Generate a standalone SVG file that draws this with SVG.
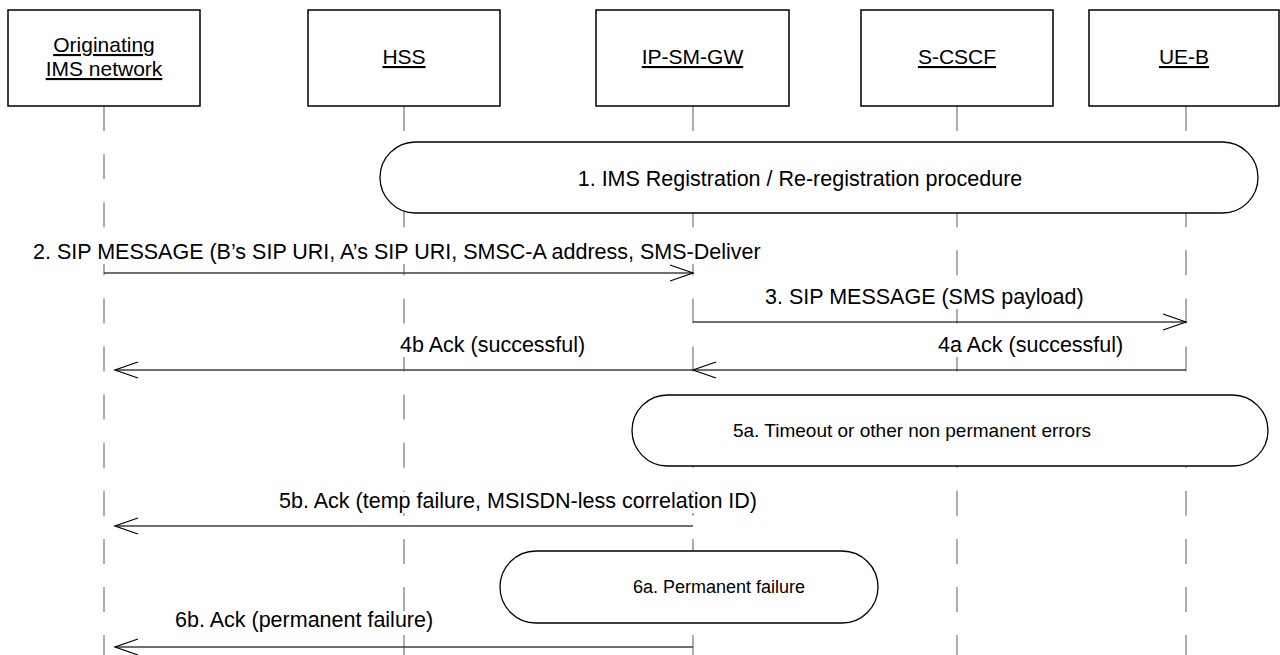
<svg xmlns="http://www.w3.org/2000/svg" width="1280" height="655" viewBox="0 0 1280 655">
<style>
text{font-family:"Liberation Sans",Arial,sans-serif;font-size:21.5px;fill:#000}
.hdr{fill:#fff;stroke:#000;stroke-width:1.5}
.ht{text-anchor:middle;text-decoration:underline;font-size:21px}
.life{stroke:#808080;stroke-width:1.3;stroke-dasharray:25 23.1}
.msg{stroke:#404040;stroke-width:1.3;fill:none}
.bg{fill:#fff}
.proc{fill:#fff;stroke:#000;stroke-width:1.3}
.pt{text-anchor:middle}
</style>
<defs>
<marker id="ah" markerWidth="26" markerHeight="18" refX="24" refY="9" orient="auto" markerUnits="userSpaceOnUse">
<path d="M1,1 L24,9 L1,17" fill="none" stroke="#000" stroke-width="1.2"/>
</marker>
</defs>
<rect width="1280" height="655" fill="#fff"/>
<g id="lifelines">
<line class="life" x1="104" y1="106" x2="104" y2="655"/>
<line class="life" x1="404" y1="106" x2="404" y2="655"/>
<line class="life" x1="693" y1="106" x2="693" y2="655"/>
<line class="life" x1="957" y1="106" x2="957" y2="655"/>
<line class="life" x1="1186" y1="106" x2="1186" y2="655"/>
</g>
<g id="node-orig"><rect class="hdr" x="8" y="10" width="192" height="96"/><text class="ht" x="104" y="52">Originating</text><text class="ht" x="104" y="76">IMS network</text></g>
<g id="node-hss"><rect class="hdr" x="308" y="10" width="192" height="96"/><text class="ht" x="404" y="64">HSS</text></g>
<g id="node-ipsmgw"><rect class="hdr" x="596" y="10" width="193" height="96"/><text class="ht" x="692.5" y="64">IP-SM-GW</text></g>
<g id="node-scscf"><rect class="hdr" x="861" y="10" width="192" height="96"/><text class="ht" x="957" y="64">S-CSCF</text></g>
<g id="node-ueb"><rect class="hdr" x="1089" y="10" width="190" height="96"/><text class="ht" x="1184" y="64">UE-B</text></g>
<g id="proc-1"><rect class="proc" x="380" y="142" width="878" height="71" rx="35.5" ry="35.5"/><text class="pt" x="800" y="186">1. IMS Registration / Re-registration procedure</text></g>
<g id="proc-5a"><rect class="proc" x="632" y="395" width="636" height="71" rx="35.5" ry="35.5"/><text class="pt" x="912" y="437" style="font-size:19px">5a. Timeout or other non permanent errors</text></g>
<g id="proc-6a"><rect class="proc" x="500" y="551" width="378" height="72" rx="36" ry="36"/><text class="pt" x="719" y="593" style="font-size:18px">6a. Permanent failure</text></g>
<g id="connectors">
<line class="msg" x1="104" y1="273" x2="693" y2="273" marker-end="url(#ah)"/>
<line class="msg" x1="693" y1="322" x2="1186" y2="322" marker-end="url(#ah)"/>
<line class="msg" x1="1186" y1="370" x2="693" y2="370" marker-end="url(#ah)"/>
<line class="msg" x1="693" y1="370" x2="115" y2="370" marker-end="url(#ah)"/>
<line class="msg" x1="693" y1="526" x2="115" y2="526" marker-end="url(#ah)"/>
<line class="msg" x1="693" y1="647" x2="115" y2="647" marker-end="url(#ah)"/>
</g>
<g id="labels">
<rect class="bg" x="31" y="243" width="733" height="21"/>
<text x="33" y="259">2. SIP MESSAGE (B’s SIP URI, A’s SIP URI, SMSC-A address, SMS-Deliver</text>
<rect class="bg" x="763" y="288" width="332" height="21"/>
<text x="765" y="304">3. SIP MESSAGE (SMS payload)</text>
<rect class="bg" x="936" y="336" width="196" height="21"/>
<text x="938" y="352">4a Ack (successful)</text>
<rect class="bg" x="398" y="336" width="196" height="21"/>
<text x="400" y="352">4b Ack (successful)</text>
<rect class="bg" x="270" y="492" width="489" height="21"/>
<text style="text-anchor:end" x="757" y="508">5b. Ack (temp failure, MSISDN-less correlation ID)</text>
<rect class="bg" x="173" y="611" width="262" height="21"/>
<text x="175" y="627">6b. Ack (permanent failure)</text>
</g>
</svg>
